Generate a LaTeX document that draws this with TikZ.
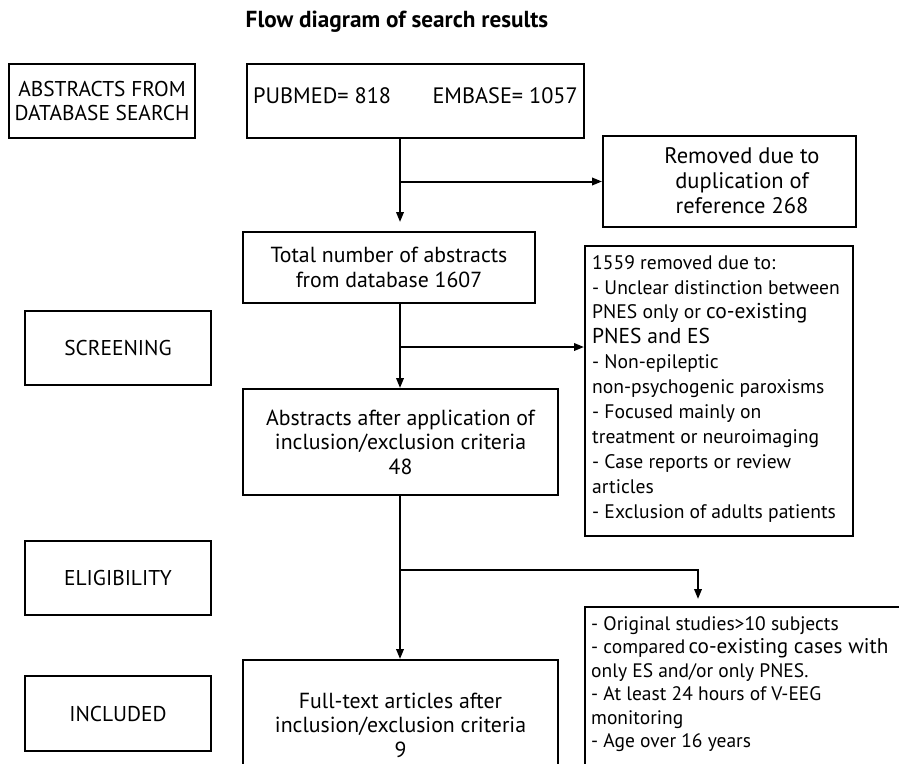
\documentclass[tikz,border=0pt]{standalone}
\usepackage{fontspec}
\setmainfont{PT Sans}
\usetikzlibrary{arrows.meta,calc}
\begin{document}
\begin{tikzpicture}[x=1pt,y=-1pt,
  rect/.style={draw,line width=2pt,inner sep=0pt,align=center,font=\fontsize{21.8}{24.5}\selectfont},
  side/.style={rect,minimum width=186pt,font=\fontsize{21.4}{23.5}\selectfont},
  txt/.style={inner sep=0pt,font=\fontsize{22.3}{25}\selectfont},
  lst/.style={inner sep=0pt,align=left,font=\fontsize{19.6}{24.9}\selectfont},
  arr/.style={line width=2pt,-{Triangle[length=10pt,width=7.5pt]}}]
\clip (0,0) rectangle (899,763);
\node[inner sep=0pt,font=\bfseries\fontsize{23.2}{26}\selectfont] (title) at (397,22) {Flow diagram of search results};

\node[side,minimum height=74pt] (a) at (102,101) {ABSTRACTS FROM\\DATABASE SEARCH};
\node[side,minimum height=74pt] (scr) at (118,348) {SCREENING};
\node[side,minimum height=74pt] (eli) at (118,578) {ELIGIBILITY};
\node[side,minimum height=75pt] (inc) at (118,713.5) {INCLUDED};

\node[rect,minimum width=337pt,minimum height=74pt] (pb) at (415.5,101) {};
\node[txt,anchor=west] (pbt) at (253,96) {PUBMED= 818};
\node[txt,anchor=east] (emt) at (578,96) {EMBASE= 1057};

\node[rect,minimum width=253pt,minimum height=91pt] (rm) at (729.5,181.5) {};
\node[txt,align=center,font=\fontsize{22.5}{25}\selectfont] (rmt) at (742,181) {Removed due to\\duplication of\\reference 268};

\node[rect,minimum width=292pt,minimum height=71pt] (tot) at (389,267.5) {Total number of abstracts\\from database 1607};

\node[rect,minimum width=268pt,minimum height=290pt] (ex) at (719,391) {};
\node[lst,anchor=north west] (ext) at (592,255) {1559 removed due to:\\
- Unclear distinction between\\
PNES only or {\fontsize{21.5}{24.9}\selectfont co-existing}\\
{\fontsize{21.5}{24.9}\selectfont PNES and ES}\\
- Non-epileptic\\
non-psychogenic paroxisms\\
- Focused mainly on\\
treatment or neuroimaging\\
- Case reports or review\\
articles\\
- Exclusion of adults patients};

\node[rect,minimum width=315pt,minimum height=106pt] (ab) at (400.5,442) {Abstracts after application of\\inclusion/exclusion criteria\\48};

\node[rect,minimum width=315pt,minimum height=130pt] (ft) at (400.5,725) {Full-text articles after\\inclusion/exclusion criteria\\9};

\node[rect,minimum width=335pt,minimum height=193pt] (cr) at (752.5,703.5) {};
\node[lst,anchor=north west,font=\fontsize{19.5}{23.5}\selectfont] (crt) at (591,616) {- Original studies>10 subjects\\
- compared\,{\fontsize{21.2}{23.5}\selectfont co-existing cases with}\\
only ES and/or only PNES.\\
- At least 24 hours of V-EEG\\
monitoring\\
- Age over 16 years};

\coordinate (trunk) at (400,0);
\coordinate (b2) at (400,347);
\coordinate (b3) at (400,570);
\coordinate (c3) at (698,599);

\draw[arr,shorten >=9pt] (pb.south -| trunk) -- (tot.north -| trunk);
\draw[arr] (trunk |- rm.west) -- (rm.west);
\draw[arr] (tot.south -| trunk) -- (ab.north -| trunk);
\draw[arr] (b2) -- (b2 -| ex.west);
\draw[arr] (ab.south -| trunk) -- (ft.north -| trunk);
\draw[arr] (b3) -| (c3);
\end{tikzpicture}
\end{document}
